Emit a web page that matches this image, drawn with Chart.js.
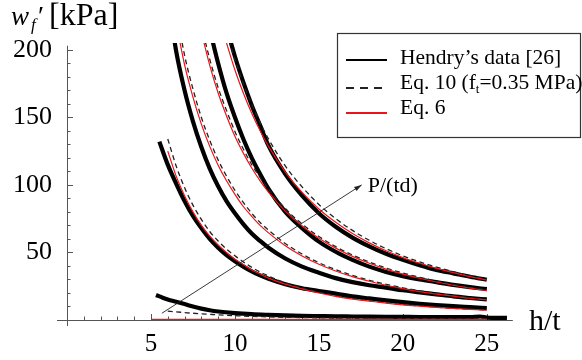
<!DOCTYPE html>
<html lang="en">
<head>
  <meta charset="UTF-8" />
  <title>w_f' vs h/t</title>
  <style>
    html, body { margin: 0; padding: 0; background: #fff; }
    #wrap { width: 582px; height: 360px; position: relative; }
  </style>
  <script src="https://cdn.jsdelivr.net/npm/chart.js"></script>
</head>
<body>
  <div id="wrap"><canvas id="chart"></canvas></div>

  <script>
    // tick labels
    const xTicks = [5, 10, 15, 20, 25];
    const yTicks = [50, 100, 150, 200];

    // shared h/t grid for curves 2..5 and the equations
    const gx = [5, 5.5, 6, 6.5, 7, 7.5, 8, 8.5, 9, 9.5, 10, 10.5, 11, 11.5, 12,
                13, 14, 15, 16, 17, 18, 19, 20, 21, 22, 23, 24, 25];

    // Hendry's data [26] (thick black), kPa
    const hendry1X = [5.3, 5.7, 6, 6.5, 7, 7.5, 8, 8.5, 9, 10, 11, 12, 13, 14, 15, 16,
                      17, 18, 19, 20, 21, 22, 23, 24, 24.6, 25, 26.2];
    const hendry1Y = [18.5, 16.5, 15.2, 13.5, 11.8, 10, 8.4, 7.2, 6.3, 5.1, 4.3, 3.8, 3.4, 3.1,
                      2.9, 2.7, 2.6, 2.5, 2.4, 2.3, 2.2, 2.2, 2.1, 2.1, 2.6, 1.8, 1.5];
    const hendry2 = [null, 132, 115, 101, 88, 77, 68, 60, 53.5, 48, 43.5, 39.5, 36, 33, 30.5,
                     26.5, 23.5, 21.5, 19.5, 17.5, 16, 14.5, 13.2, 12, 11, 10.2, 9.5, 8.8];
    const hendry3 = [null, null, 240, 199, 170, 147, 128, 112, 99, 88, 79, 71, 64, 58.5, 53.5,
                     45.5, 39.5, 35, 31, 28, 25.7, 24, 22, 20.5, 19, 17.5, 16.3, 15.2];
    const hendry4 = [null, null, null, null, null, null, null, 215, 190, 168, 150, 134, 120, 108, 97,
                     80, 68, 58, 50.5, 44.5, 39.5, 35.6, 32.5, 30, 28, 26, 24.3, 22.8];
    const hendry5 = [null, null, null, null, null, null, null, null, null, 217, 195, 176, 159, 144, 129,
                     108, 92, 79, 69, 61, 54.5, 49, 44.5, 40.5, 37, 34.5, 32, 29.8];

    // Eq. 10 (ft = 0.35 MPa), dashed black
    const eq10_1 = [null, null, 6.5, 6, 5.5, 5, 4.6, 4.2, 3.8, 3.5, 3.2, 2.9, 2.7, 2.5, 2.3,
                    2, 1.8, 1.6, 1.4, 1.3, 1.2, 1.1, 1, 0.95, 0.9, 0.85, 0.8, 0.8];
    const eq10_2 = [null, null, 134, 114, 98, 85, 74.5, 65.5, 58.5, 52.5, 47.5, 43, 39, 35.5, 32.5,
                    27.5, 23.7, 20.6, 18, 16, 14.3, 12.8, 11.5, 10.4, 9.5, 8.7, 8, 7.4];
    const eq10_3 = [null, null, null, 230, 196, 171, 150, 133, 118.5, 106.5, 96, 87, 79, 72.2, 66.5,
                    56.6, 48.8, 42.4, 37.3, 33, 29.4, 26.4, 23.8, 21.6, 19.7, 18, 16.5, 15.2];
    const eq10_4 = [null, null, null, null, null, null, 218, 193, 172, 155, 139.5, 126.5, 115, 105.5, 97,
                    82.5, 71, 61.8, 54.3, 48.1, 42.9, 38.5, 34.8, 31.6, 28.8, 26.3, 24.1, 22.2];
    const eq10_5 = [null, null, null, null, null, null, null, null, null, 213, 193, 175, 159.5, 146, 134,
                    114, 98.5, 85.5, 75, 66.3, 59, 52.8, 47.5, 43, 39.2, 35.8, 32.8, 30.2];

    // Eq. 6, thin red
    const eq6_1 = [0.4, 0.4, 0.4, 0.4, 0.4, 0.4, 0.4, 0.4, 0.4, 0.4, 0.4, 0.4, 0.4, 0.4, 0.4,
                   0.4, 0.4, 0.4, 0.4, 0.4, 0.4, 0.4, 0.4, 0.4, 0.4, 0.4, 0.4, 0.4];
    const eq6_2 = [null, null, 125, 106.5, 92, 80, 70, 62, 55.5, 50, 45, 41, 37, 34, 31,
                   26.5, 23, 20, 17.5, 15.5, 14, 12.5, 11.2, 10.2, 9.3, 8.5, 7.8, 7.2];
    const eq6_3 = [null, null, null, 220, 189, 165, 145, 128.5, 114.6, 103, 93, 84, 76.7, 70, 64.5,
                   55, 47.4, 41.3, 36.3, 32.1, 28.7, 25.7, 23.2, 21, 19.2, 17.6, 16.1, 14.9];
    const eq6_4 = [null, null, null, null, null, null, 213, 188.5, 168, 151, 136, 123.5, 112.5, 103, 94.6,
                   80.6, 69.5, 60.5, 53.2, 47.1, 42, 37.7, 34, 30.9, 28.1, 25.7, 23.6, 21.8];
    const eq6_5 = [null, null, null, null, null, null, null, null, null, 205, 185, 168, 153, 140, 128.5,
                   109.5, 94.4, 82.2, 72.3, 64, 57.1, 51.2, 46.2, 42, 38.2, 35, 32.1, 29.6];

    // P/(td) arrow, start and tip
    const arrowX = [5.65, 17.55];
    const arrowY = [5, 100];

    const serif = "'Liberation Serif', 'DejaVu Serif', serif";

    function pts(xs, ys) {
      return xs.map((x, i) => ({ x: x, y: ys[i] }));
    }

    const hendryStyle = { borderColor: "#000", borderWidth: 4.2, pointRadius: 0, cubicInterpolationMode: "monotone", fill: false };
    const eq10Style = { borderColor: "#222", borderWidth: 1.3, borderDash: [5, 3.5], pointRadius: 0, cubicInterpolationMode: "monotone", fill: false };
    const eq6Style = { borderColor: "#e8161b", borderWidth: 1.2, pointRadius: 0, cubicInterpolationMode: "monotone", fill: false };

    const datasets = [];
    [eq10_1, eq10_2, eq10_3, eq10_4, eq10_5].forEach(d => {
      datasets.push(Object.assign({ label: "Eq. 10", data: pts(gx, d), order: 2 }, eq10Style));
    });
    datasets.push(Object.assign({ label: "Hendry", data: pts(hendry1X, hendry1Y), order: 3 }, hendryStyle));
    [hendry2, hendry3, hendry4, hendry5].forEach(d => {
      datasets.push(Object.assign({ label: "Hendry", data: pts(gx, d), order: 3 }, hendryStyle));
    });
    [eq6_1, eq6_2, eq6_3, eq6_4, eq6_5].forEach(d => {
      datasets.push(Object.assign({ label: "Eq. 6", data: pts(gx, d), order: 1 }, eq6Style));
    });
    datasets.push({
      label: "arrow", data: pts(arrowX, arrowY), borderColor: "#222", borderWidth: 0.9,
      pointRadius: 0, tension: 0, order: 0, clip: false
    });

    // axes, ticks, arrow head, legend and free text
    const decor = {
      id: "decor",
      beforeDatasetsDraw(chart) {
        const ctx = chart.ctx;
        const xs = chart.scales.x, ys = chart.scales.y;
        const x0 = xs.getPixelForValue(0), y0 = ys.getPixelForValue(0);
        ctx.save();
        ctx.strokeStyle = "#555";
        ctx.lineWidth = 1;
        ctx.beginPath();
        ctx.moveTo(x0 - 10, y0 + 0.5);
        ctx.lineTo(xs.getPixelForValue(26.55), y0 + 0.5);
        ctx.moveTo(x0 + 0.5, y0 + 6);
        ctx.lineTo(x0 + 0.5, ys.getPixelForValue(203));
        for (let v = 1; v <= 26; v++) {
          const px = Math.round(xs.getPixelForValue(v)) + 0.5;
          ctx.moveTo(px, y0);
          ctx.lineTo(px, y0 - (v % 5 === 0 ? 6 : 3.5));
        }
        for (let v = 10; v <= 200; v += 10) {
          const py = Math.round(ys.getPixelForValue(v)) + 0.5;
          ctx.moveTo(x0, py);
          ctx.lineTo(x0 + (v % 50 === 0 ? 6 : 3.5), py);
        }
        ctx.stroke();
        ctx.restore();
      },
      afterDatasetsDraw(chart) {
        const ctx = chart.ctx;
        const meta = chart.getDatasetMeta(chart.data.datasets.length - 1);
        const a = meta.data[0], b = meta.data[1];
        const ang = Math.atan2(b.y - a.y, b.x - a.x);
        ctx.save();
        ctx.fillStyle = "#222";
        ctx.beginPath();
        ctx.moveTo(b.x, b.y);
        ctx.lineTo(b.x - 8 * Math.cos(ang - 0.3), b.y - 8 * Math.sin(ang - 0.3));
        ctx.lineTo(b.x - 8 * Math.cos(ang + 0.3), b.y - 8 * Math.sin(ang + 0.3));
        ctx.closePath();
        ctx.fill();

        ctx.fillStyle = "#000";
        ctx.textBaseline = "alphabetic";
        ctx.font = "22px " + serif;
        ctx.fillText("P/(td)", b.x + 6, b.y + 7);

        // axis titles
        ctx.font = "italic 27px " + serif;
        ctx.fillText("w", 11, 25);
        ctx.font = "italic 17px " + serif;
        ctx.fillText("f", 31, 30);
        ctx.font = "28px " + serif;
        ctx.fillText("\u2032", 38, 25);
        ctx.font = "32px " + serif;
        ctx.fillText("[kPa]", 49, 25);
        ctx.font = "30px " + serif;
        ctx.fillText("h/t", 529, 330);

        // legend
        ctx.strokeStyle = "#333";
        ctx.lineWidth = 1.2;
        ctx.strokeRect(337.5, 33.5, 243, 104);
        const rows = [
          { y: 60, color: "#000", dash: [], w: 2.2 },
          { y: 88, color: "#222", dash: [8, 6], w: 2.2 },
          { y: 113, color: "#e8161b", dash: [], w: 2 }
        ];
        rows.forEach(r => {
          ctx.beginPath();
          ctx.setLineDash(r.dash);
          ctx.strokeStyle = r.color;
          ctx.lineWidth = r.w;
          ctx.moveTo(346, r.y);
          ctx.lineTo(387, r.y);
          ctx.stroke();
        });
        ctx.setLineDash([]);
        ctx.fillStyle = "#000";
        ctx.font = "21.5px " + serif;
        ctx.fillText("Hendry\u2019s data [26]", 400, 64);
        let tx = 400;
        ctx.fillText("Eq. 10 (f", tx, 89);
        tx += ctx.measureText("Eq. 10 (f").width;
        ctx.font = "13px " + serif;
        ctx.fillText("t", tx, 93);
        tx += ctx.measureText("t").width;
        ctx.font = "21.5px " + serif;
        ctx.fillText("=0.35 MPa)", tx, 89);
        ctx.fillText("Eq. 6", 400, 114);
        ctx.restore();
      }
    };

    new Chart(document.getElementById("chart"), {
      type: "line",
      data: { datasets: datasets },
      plugins: [decor],
      options: {
        responsive: true,
        maintainAspectRatio: false,
        animation: false,
        spanGaps: false,
        layout: { padding: { left: 0, top: 43, right: 70, bottom: 0 } },
        plugins: { legend: { display: false }, tooltip: { enabled: false }, title: { display: false } },
        scales: {
          x: {
            type: "linear", min: 0, max: 26.5,
            grid: { display: false }, border: { display: false },
            afterBuildTicks: s => { s.ticks = xTicks.map(v => ({ value: v })); },
            afterFit: s => { s.height = 40; },
            ticks: { color: "#000", padding: 1, maxRotation: 0, autoSkip: false, font: { family: serif, size: 25 } }
          },
          y: {
            type: "linear", min: 0, max: 205,
            grid: { display: false }, border: { display: false },
            afterBuildTicks: s => { s.ticks = yTicks.map(v => ({ value: v })); },
            afterFit: s => { s.width = 67; },
            ticks: { color: "#000", padding: 7, font: { family: serif, size: 26 } }
          }
        }
      }
    });
  </script>
</body>
</html>
